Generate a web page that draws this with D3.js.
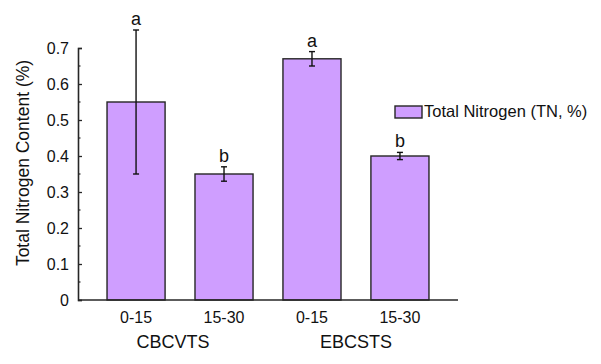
<!DOCTYPE html>
<html>
<head>
<meta charset="utf-8">
<script src="https://cdn.jsdelivr.net/npm/d3@7"></script>
<style>
  body { margin: 0; background: #fff; }
  text { font-family: "Liberation Sans", Arial, sans-serif; fill: #111; }
</style>
</head>
<body>
<div id="chart"></div>
<script>
// data
var sites = ["CBCVTS", "CBCVTS", "EBCSTS", "EBCSTS"];
var depths = ["0-15", "15-30", "0-15", "15-30"];
var tnValues = [0.55, 0.35, 0.67, 0.40];
var tnErrors = [0.20, 0.02, 0.02, 0.01];
var letters = ["a", "b", "a", "b"];
var groups = ["CBCVTS", "EBCSTS"];
var yTicks = [0, 0.1, 0.2, 0.3, 0.4, 0.5, 0.6, 0.7];
var legendLabel = "Total Nitrogen (TN, %)";

var W = 601, H = 364;
var barFill = "#cf9eff", lineCol = "#262626";

var svg = d3.select("#chart").append("svg")
  .attr("width", W).attr("height", H);

var rows = tnValues.map(function (v, i) {
  return { key: i, site: sites[i], depth: depths[i], v: v, e: tnErrors[i], letter: letters[i] };
});

//L R / T B of plot
var x = d3.scaleBand().domain(rows.map(function (d) { return d.key; }))
  .range([78, 458]).paddingInner(0.34).paddingOuter(0.33);
var y = d3.scaleLinear().domain([0, 0.7]).range([300, 48]);

// bars
svg.selectAll("rect.bar").data(rows).enter().append("rect")
  .attr("class", "bar")
  .attr("x", function (d) { return x(d.key); })
  .attr("y", function (d) { return y(d.v); })
  .attr("width", x.bandwidth())
  .attr("height", function (d) { return y(0) - y(d.v); })
  .attr("fill", barFill)
  .attr("stroke", lineCol)
  .attr("stroke-width", 1.4);

// error bars
var eb = svg.selectAll("g.err").data(rows).enter().append("g")
  .attr("class", "err")
  .attr("stroke", "#111").attr("stroke-width", 1.4);
eb.append("line")
  .attr("x1", function (d) { return x(d.key) + x.bandwidth() / 2; })
  .attr("x2", function (d) { return x(d.key) + x.bandwidth() / 2; })
  .attr("y1", function (d) { return y(d.v + d.e); })
  .attr("y2", function (d) { return y(d.v - d.e); });
[1, -1].forEach(function (s) {
  eb.append("line")
    .attr("x1", function (d) { return x(d.key) + x.bandwidth() / 2 - 3; })
    .attr("x2", function (d) { return x(d.key) + x.bandwidth() / 2 + 3; })
    .attr("y1", function (d) { return y(d.v + s * d.e); })
    .attr("y2", function (d) { return y(d.v + s * d.e); });
});

// significance letters
svg.selectAll("text.sig").data(rows).enter().append("text")
  .attr("class", "sig")
  .attr("x", function (d) { return x(d.key) + x.bandwidth() / 2; })
  .attr("y", function (d) { return y(d.v + d.e) - 5; })
  .attr("text-anchor", "middle")
  .attr("font-size", "18px")
  .text(function (d) { return d.letter; });

// y axis, ticks pointing inward, minor ticks at halves
var yAxis = svg.append("g").attr("transform", "translate(78,0)")
  .call(d3.axisLeft(y).tickValues(yTicks).tickSize(-4).tickPadding(9)
    .tickFormat(function (d) { return d === 0 ? "0" : d3.format(".1f")(d); }));
yAxis.select(".domain").attr("stroke", lineCol).attr("stroke-width", 1.6);
yAxis.selectAll(".tick line").attr("stroke", lineCol).attr("stroke-width", 1.3);
yAxis.selectAll(".tick text").attr("font-size", "16px").attr("font-family", "Liberation Sans, Arial, sans-serif").attr("fill", "#111");
var minor = yTicks.slice(0, -1).map(function (t) { return t + 0.05; });
svg.append("g").selectAll("line").data(minor).enter().append("line")
  .attr("x1", 78).attr("x2", 80.5)
  .attr("y1", function (d) { return y(d); }).attr("y2", function (d) { return y(d); })
  .attr("stroke", lineCol).attr("stroke-width", 1.2);

// x axis line
svg.append("line")
  .attr("x1", x.range()[0]).attr("x2", x.range()[1])
  .attr("y1", y(0)).attr("y2", y(0))
  .attr("stroke", lineCol).attr("stroke-width", 1.6);

// depth labels
svg.selectAll("text.depth").data(rows).enter().append("text")
  .attr("class", "depth")
  .attr("x", function (d) { return x(d.key) + x.bandwidth() / 2; })
  .attr("y", 323)
  .attr("text-anchor", "middle")
  .attr("font-size", "16px")
  .text(function (d) { return d.depth; });

// site labels
svg.selectAll("text.grp").data(groups).enter().append("text")
  .attr("class", "grp")
  .attr("x", function (g) {
    var ks = rows.filter(function (d) { return d.site === g; }).map(function (d) { return x(d.key) + x.bandwidth() / 2; });
    return d3.mean(ks) - (g === "CBCVTS" ? 7 : 0);
  })
  .attr("y", 348)
  .attr("text-anchor", "middle")
  .attr("font-size", "18px")
  .text(function (g) { return g; });

// y title
svg.append("text")
  .attr("transform", "translate(29,163) rotate(-90)")
  .attr("text-anchor", "middle")
  .attr("font-size", "17.5px")
  .text("Total Nitrogen Content (%)");

// legend
var lg = svg.append("g").attr("transform", "translate(395,106)");
lg.append("rect").attr("width", 27).attr("height", 12)
  .attr("fill", barFill).attr("stroke", lineCol).attr("stroke-width", 1.4);
lg.append("text").attr("x", 29).attr("y", 11)
  .attr("font-size", "16.5px")
  .text(legendLabel);
</script>
</body>
</html>
